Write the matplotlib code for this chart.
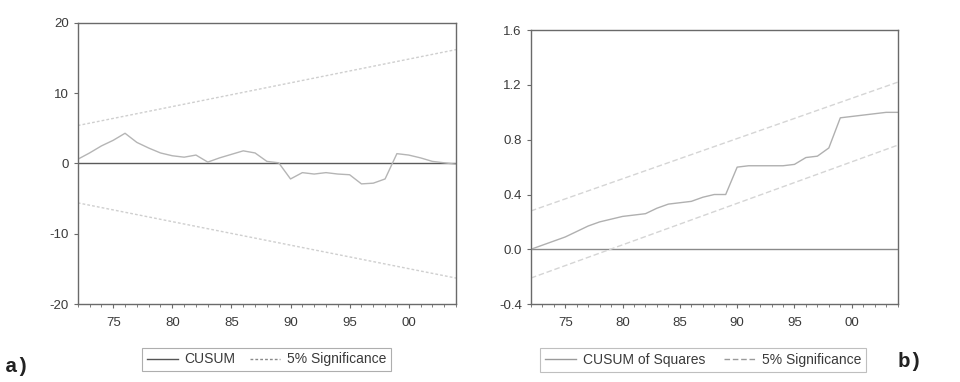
import matplotlib
matplotlib.use("Agg")
import matplotlib.pyplot as plt
from matplotlib.ticker import MultipleLocator, FuncFormatter

plt.rcParams['font.family'] = ['Liberation Sans Narrow', 'Liberation Sans', 'DejaVu Sans']
plt.rcParams['axes.unicode_minus'] = False

# years of the recursive estimates
years = list(range(1972, 2005))

# panel a) CUSUM
cusum = [0.6, 1.5, 2.5, 3.3, 4.3, 3.0, 2.2, 1.5, 1.1, 0.9, 1.2, 0.2, 0.8, 1.3,
         1.8, 1.5, 0.3, 0.1, -2.2, -1.3, -1.5, -1.3, -1.5, -1.6, -2.9, -2.8,
         -2.2, 1.4, 1.2, 0.8, 0.3, 0.1, -0.1]
band_years = [1972, 2004]
cusum_upper = [5.4, 16.2]
cusum_lower = [-5.6, -16.3]

# panel b) CUSUM of squares
cusumsq = [0.0, 0.03, 0.06, 0.09, 0.13, 0.17, 0.20, 0.22, 0.24, 0.25, 0.26,
           0.30, 0.33, 0.34, 0.35, 0.38, 0.40, 0.40, 0.60, 0.61, 0.61, 0.61,
           0.61, 0.62, 0.67, 0.68, 0.74, 0.96, 0.97, 0.98, 0.99, 1.00, 1.00]
sq_upper = [0.28, 1.22]
sq_lower = [-0.21, 0.76]

xticks = [1975, 1980, 1985, 1990, 1995, 2000]

fig = plt.figure(figsize=(9.6, 3.82), dpi=100)
ax1 = fig.add_axes([0.081, 0.204, 0.394, 0.736])
ax2 = fig.add_axes([0.553, 0.204, 0.382, 0.717])

frame = '#6a6a6a'
txt = '#3a3a3a'


def style(ax):
    ax.set_xlim(1972, 2004)
    ax.set_xticks(xticks)
    ax.xaxis.set_major_formatter(FuncFormatter(lambda v, p: '%02d' % (int(v) % 100)))
    ax.xaxis.set_minor_locator(MultipleLocator(1))
    for s in ax.spines.values():
        s.set_color(frame)
        s.set_linewidth(1.0)
    ax.tick_params(which='both', direction='out', color=frame, labelcolor=txt,
                   labelsize=9.5)
    ax.tick_params(which='major', length=3)
    ax.tick_params(which='minor', length=2)
    ax.tick_params(axis='x', pad=6)


# a) CUSUM
ax1.axhline(0, color='#5a5a5a', lw=1.0)
ax1.plot(years, cusum, color='#b5b5b5', lw=1.0, label='CUSUM')
ax1.plot(band_years, cusum_upper, color='#cfcfcf', lw=1.0, ls=(0, (2, 1.5)),
         label='5% Significance')
ax1.plot(band_years, cusum_lower, color='#cfcfcf', lw=1.0, ls=(0, (2, 1.5)))
ax1.set_ylim(-20, 20)
ax1.set_yticks([-20, -10, 0, 10, 20])
style(ax1)
leg1 = ax1.legend(loc='upper center', bbox_to_anchor=(0.5, -0.13), ncol=2,
                  fontsize=10, frameon=True, fancybox=False, handlelength=2.2,
                  columnspacing=1.0, handletextpad=0.5, borderpad=0.35)
leg1.get_frame().set_edgecolor('#9a9a9a')
leg1.get_frame().set_linewidth(0.8)
for t in leg1.get_texts():
    t.set_color(txt)
leg1.get_lines()[0].set_color('#555555')
leg1.get_lines()[1].set_color('#8a8a8a')

# b) CUSUM of squares
ax2.axhline(0, color='#8a8a8a', lw=1.0)
ax2.plot(years, cusumsq, color='#b0b0b0', lw=1.0, label='CUSUM of Squares')
ax2.plot(band_years, sq_upper, color='#d5d5d5', lw=1.0, ls=(0, (4, 2)),
         label='5% Significance')
ax2.plot(band_years, sq_lower, color='#d5d5d5', lw=1.0, ls=(0, (4, 2)))
ax2.set_ylim(-0.4, 1.6)
ax2.set_yticks([-0.4, 0.0, 0.4, 0.8, 1.2, 1.6])
ax2.yaxis.set_major_formatter(FuncFormatter(lambda v, p: '%.1f' % v))
style(ax2)
leg2 = ax2.legend(loc='upper center', bbox_to_anchor=(0.47, -0.135), ncol=2,
                  fontsize=10, frameon=True, fancybox=False, handlelength=2.2,
                  columnspacing=1.4, handletextpad=0.5, borderpad=0.35)
leg2.get_frame().set_edgecolor('#b0b0b0')
leg2.get_frame().set_linewidth(0.8)
for t in leg2.get_texts():
    t.set_color(txt)
leg2.get_lines()[0].set_color('#9a9a9a')
leg2.get_lines()[1].set_color('#9a9a9a')

# panel labels
fig.text(0.005, 0.025, 'a)', family=['Liberation Mono', 'DejaVu Sans Mono'],
         fontweight='bold', fontsize=15, color='#222222')
fig.text(0.935, 0.04, 'b)', family=['Liberation Mono', 'DejaVu Sans Mono'],
         fontweight='bold', fontsize=15, color='#222222')

fig.savefig('out.png', dpi=100, facecolor='white')
